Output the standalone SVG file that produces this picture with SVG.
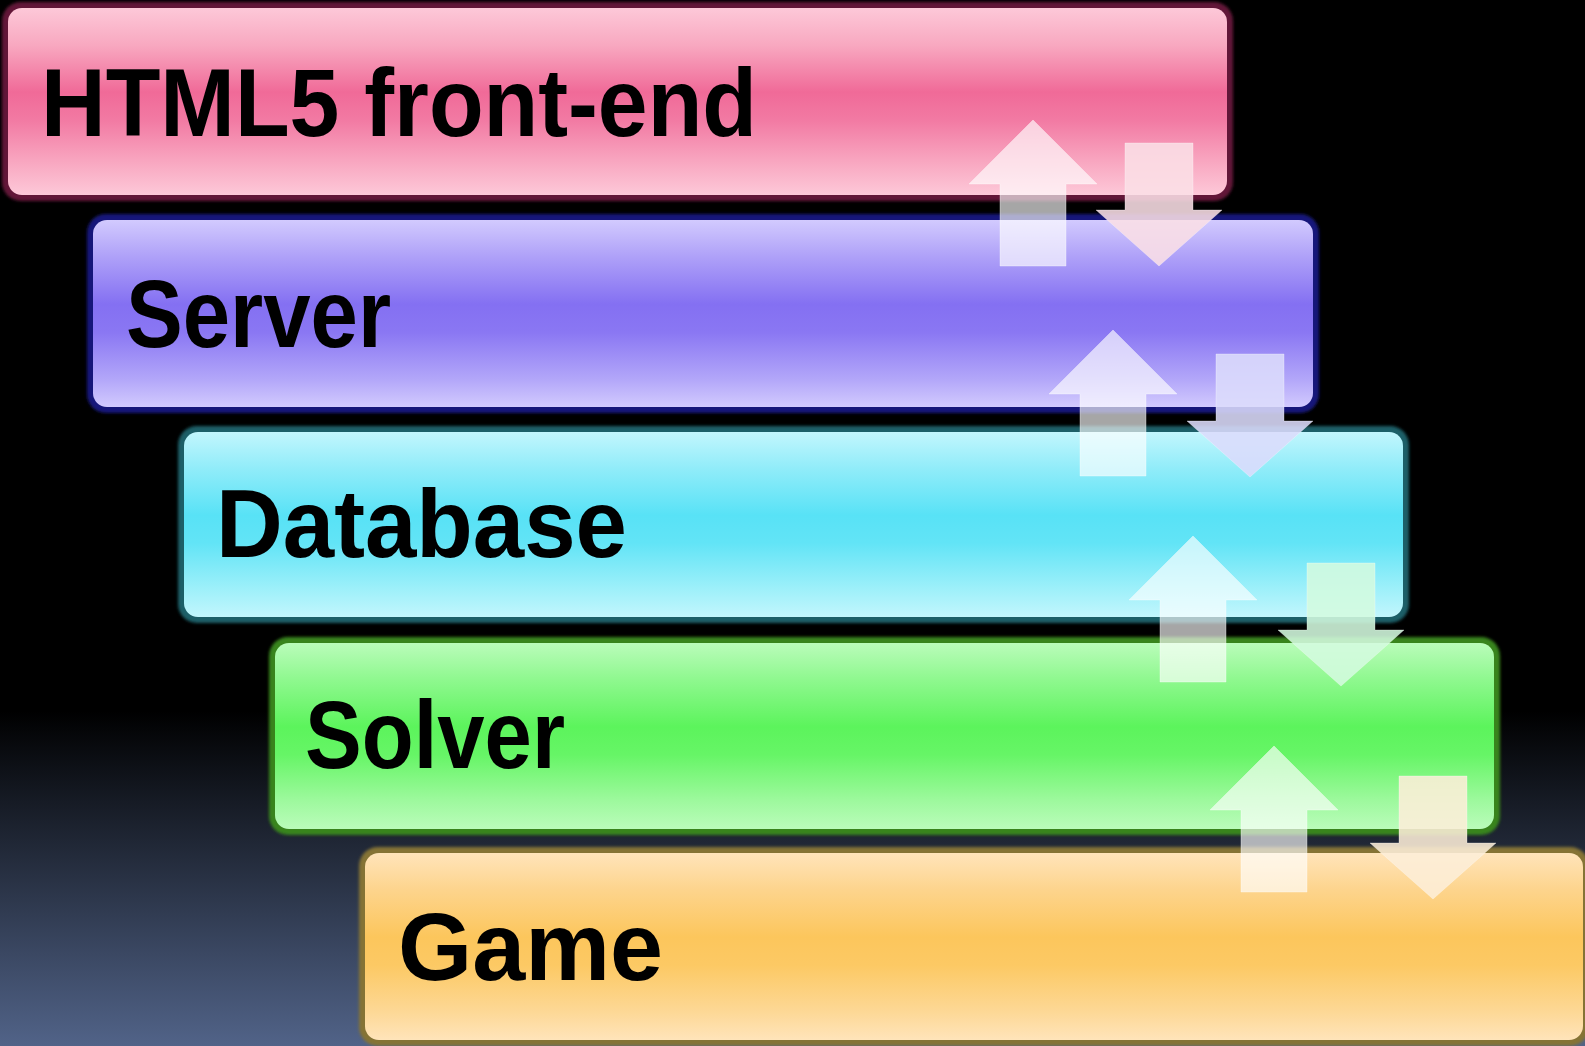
<svg xmlns="http://www.w3.org/2000/svg" width="1585" height="1046" viewBox="0 0 1585 1046">
  <defs>
    <linearGradient id="bg" x1="0" y1="0" x2="0" y2="1">
      <stop offset="0" stop-color="#000000"/>
      <stop offset="0.68" stop-color="#000000"/>
      <stop offset="1" stop-color="#516388"/>
    </linearGradient>
    <linearGradient id="gPink" x1="0" y1="0" x2="0" y2="1">
      <stop offset="0" stop-color="#fdc8d8"/>
      <stop offset="0.2" stop-color="#f8a8c0"/>
      <stop offset="0.45" stop-color="#f06a98"/>
      <stop offset="0.6" stop-color="#f27aa3"/>
      <stop offset="0.85" stop-color="#f9acc4"/>
      <stop offset="1" stop-color="#fdc8d8"/>
    </linearGradient>
    <linearGradient id="gPurple" x1="0" y1="0" x2="0" y2="1">
      <stop offset="0" stop-color="#d2cafe"/>
      <stop offset="0.2" stop-color="#aea0f8"/>
      <stop offset="0.45" stop-color="#8470f2"/>
      <stop offset="0.6" stop-color="#8a77f3"/>
      <stop offset="0.85" stop-color="#b2a6f9"/>
      <stop offset="1" stop-color="#d2cafe"/>
    </linearGradient>
    <linearGradient id="gCyan" x1="0" y1="0" x2="0" y2="1">
      <stop offset="0" stop-color="#c2f6fd"/>
      <stop offset="0.2" stop-color="#90ecf9"/>
      <stop offset="0.45" stop-color="#58e2f6"/>
      <stop offset="0.6" stop-color="#62e4f6"/>
      <stop offset="0.85" stop-color="#9ef0fa"/>
      <stop offset="1" stop-color="#c2f6fd"/>
    </linearGradient>
    <linearGradient id="gGreen" x1="0" y1="0" x2="0" y2="1">
      <stop offset="0" stop-color="#bafcba"/>
      <stop offset="0.2" stop-color="#8ef88e"/>
      <stop offset="0.45" stop-color="#5cf45c"/>
      <stop offset="0.6" stop-color="#66f566"/>
      <stop offset="0.85" stop-color="#9ef99e"/>
      <stop offset="1" stop-color="#bafcba"/>
    </linearGradient>
    <linearGradient id="gOrange" x1="0" y1="0" x2="0" y2="1">
      <stop offset="0" stop-color="#ffe4ba"/>
      <stop offset="0.2" stop-color="#fdd48c"/>
      <stop offset="0.45" stop-color="#fcc65c"/>
      <stop offset="0.6" stop-color="#fcc964"/>
      <stop offset="0.85" stop-color="#fdd896"/>
      <stop offset="1" stop-color="#ffe4ba"/>
    </linearGradient>
    <filter id="blur" x="-5%" y="-20%" width="110%" height="140%">
      <feGaussianBlur stdDeviation="1.5"/>
    </filter>
    <style>
      .glow { filter: url(#blur); }
      .label { font-family: "Liberation Sans", Arial, sans-serif; font-weight: bold; font-size: 96px; fill: #000000; }
      .up { fill: #ffffff; fill-opacity: 0.65; stroke: #ffffff; stroke-opacity: 0.35; stroke-width: 1; }
      .down { fill-opacity: 0.88; stroke: #ffffff; stroke-opacity: 0.3; stroke-width: 1; }
    </style>
  </defs>

  <rect x="0" y="0" width="1585" height="1046" fill="url(#bg)"/>

  <g id="node-html5">
    <rect class="glow" x="2" y="2" width="1231" height="199" rx="19" fill="#621638"/>
    <rect x="8" y="8" width="1219" height="187" rx="14" fill="url(#gPink)"/>
    <text class="label" x="41" y="136" textLength="716" lengthAdjust="spacingAndGlyphs">HTML5 front-end</text>
  </g>

  <g id="node-server">
    <rect class="glow" x="87" y="214" width="1232" height="199" rx="19" fill="#16187a"/>
    <rect x="93" y="220" width="1220" height="187" rx="14" fill="url(#gPurple)"/>
    <text class="label" x="126" y="347" textLength="265" lengthAdjust="spacingAndGlyphs">Server</text>
  </g>

  <g id="node-database">
    <rect class="glow" x="178" y="426" width="1231" height="197" rx="19" fill="#1c5f68"/>
    <rect x="184" y="432" width="1219" height="185" rx="14" fill="url(#gCyan)"/>
    <text class="label" x="216" y="557" textLength="411" lengthAdjust="spacingAndGlyphs">Database</text>
  </g>

  <g id="node-solver">
    <rect class="glow" x="269" y="637" width="1231" height="198" rx="19" fill="#37841e"/>
    <rect x="275" y="643" width="1219" height="186" rx="14" fill="url(#gGreen)"/>
    <text class="label" x="305" y="768" textLength="260" lengthAdjust="spacingAndGlyphs">Solver</text>
  </g>

  <g id="node-game">
    <rect class="glow" x="359" y="847" width="1230" height="199" rx="19" fill="#857336"/>
    <rect x="365" y="853" width="1218" height="187" rx="14" fill="url(#gOrange)"/>
    <text class="label" x="398" y="980" textLength="265" lengthAdjust="spacingAndGlyphs">Game</text>
  </g>

  <g id="connectors">
    <path class="up" d="M1033,120 L1097,184 L1066,184 L1066,266 L1000,266 L1000,184 L969,184 Z"/>
    <path class="down" fill="#fbdfe6" d="M1125,143 L1193,143 L1193,210 L1222,210 L1159,266 L1096,210 L1125,210 Z"/>

    <path class="up" d="M1113,330 L1177,394 L1146,394 L1146,476 L1080,476 L1080,394 L1049,394 Z"/>
    <path class="down" fill="#dcdcfc" d="M1216,354 L1284,354 L1284,421 L1313,421 L1250,477 L1187,421 L1216,421 Z"/>

    <path class="up" d="M1193,536 L1257,600 L1226,600 L1226,682 L1160,682 L1160,600 L1129,600 Z"/>
    <path class="down" fill="#d4fadf" d="M1307,563 L1375,563 L1375,630 L1404,630 L1341,686 L1278,630 L1307,630 Z"/>

    <path class="up" d="M1274,746 L1338,810 L1307,810 L1307,892 L1241,892 L1241,810 L1210,810 Z"/>
    <path class="down" fill="#fdeed8" d="M1399,776 L1467,776 L1467,843 L1496,843 L1433,899 L1370,843 L1399,843 Z"/>
  </g>
</svg>
